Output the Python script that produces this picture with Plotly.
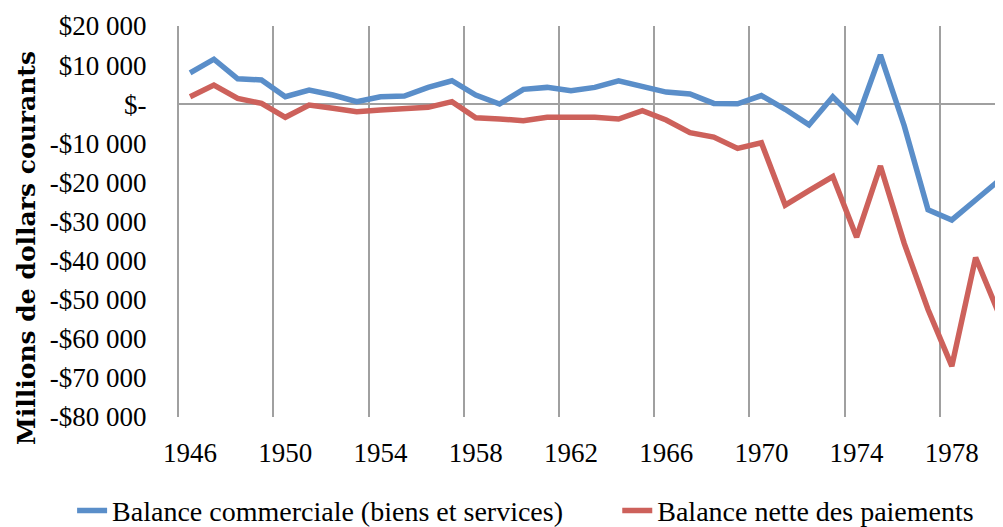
import plotly.graph_objects as go

years = list(range(1946, 1981))

balance_commerciale = [
    8000, 11500, 6500, 6200, 1900, 3600, 2350, 650, 1900, 2100,
    4300, 6000, 2350, 50, 3800, 4300, 3450, 4300, 6000, 4650,
    3100, 2600, 200, 100, 2200, -1300, -5300, 1900, -4200, 12600,
    -5500, -27000, -29600, -24500, -19400,
]

balance_paiements = [
    1900, 4900, 1500, 200, -3350, -200, -1050, -1900, -1500, -1050,
    -800, 650, -3450, -3800, -4200, -3350, -3200, -3350, -3800, -1650,
    -4050, -7300, -8400, -11300, -9850, -25800, -22100, -18500, -34000, -15800,
    -35600, -52500, -67000, -39200, -53900,
]

tick_years = [1946, 1950, 1954, 1958, 1962, 1966, 1970, 1974, 1978]
y_vals = [20000, 10000, 0, -10000, -20000, -30000, -40000, -50000, -60000, -70000, -80000]
y_text = ["$20 000", "$10 000", "$-", "-$10 000", "-$20 000", "-$30 000",
          "-$40 000", "-$50 000", "-$60 000", "-$70 000", "-$80 000"]

FONT = "Liberation Serif"
BLUE = "#5A8EC9"
RED = "#CD615B"

fig = go.Figure()
fig.add_trace(go.Scatter(x=years, y=balance_commerciale, mode="lines",
                         name="Balance commerciale (biens et services)",
                         line=dict(color=BLUE, width=5.5), legend="legend"))
fig.add_trace(go.Scatter(x=years, y=balance_paiements, mode="lines",
                         name="Balance nette des paiements",
                         line=dict(color=RED, width=5.5), legend="legend2"))

# la page a une marge de 8 px, donc la figure est un peu plus petite que la fenêtre
leg_common = dict(orientation="h", xanchor="left", yanchor="middle",
                  y=-0.24, font=dict(family=FONT, size=28), bgcolor="rgba(0,0,0,0)")

fig.update_layout(
    width=995, height=519,
    paper_bgcolor="white", plot_bgcolor="white",
    margin=dict(l=169, r=0, t=18, b=110, autoexpand=False),
    font=dict(family=FONT, size=27, color="black"),
    showlegend=True,
    legend=dict(x=-0.127, **leg_common),
    legend2=dict(x=0.533, **leg_common),
    xaxis=dict(
        range=[1945.45, 1980.15],
        tickvals=tick_years, ticks="outside", ticklen=12, tickcolor="rgba(0,0,0,0)",
        showgrid=False, zeroline=False, showline=False,
        minor=dict(tick0=1945.5, dtick=4, ticks="", showgrid=True,
                   gridcolor="#A0A0A0", gridwidth=2),
    ),
    yaxis=dict(
        range=[-80000, 20000],
        tickvals=y_vals, ticktext=y_text,
        ticks="outside", ticklen=24, tickcolor="rgba(0,0,0,0)",
        showgrid=False, showline=False,
        zeroline=True, zerolinecolor="#A0A0A0", zerolinewidth=2,
    ),
)

fig.add_annotation(
    text="<b>Millions de dollars courants</b>",
    xref="paper", yref="paper", x=-0.183, y=0.432,
    xanchor="center", yanchor="middle", textangle=-90, showarrow=False,
    font=dict(family="DejaVu Serif", size=25, color="black"),
)

fig.write_html("out.html")
